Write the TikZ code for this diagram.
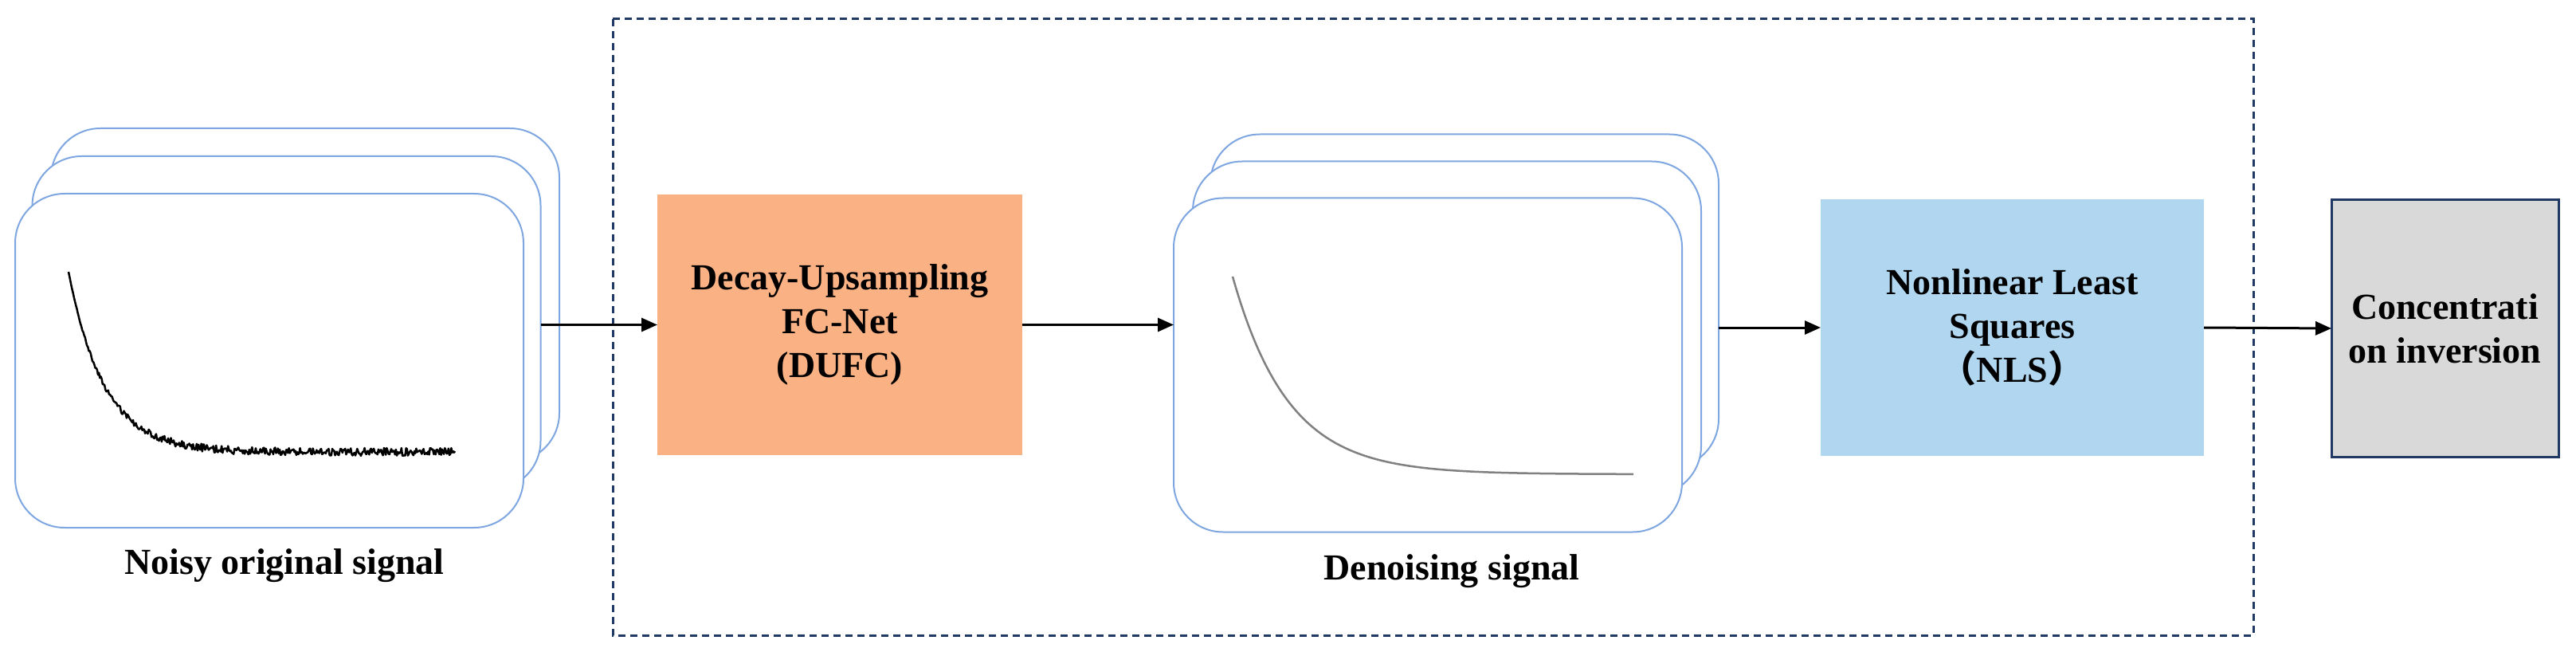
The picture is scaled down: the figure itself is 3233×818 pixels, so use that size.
\documentclass[tikz,border=0pt]{standalone}
\usepackage{fontspec}
\setmainfont{Liberation Serif}
\newfontfamily\cjk{Noto Sans CJK SC}
\usetikzlibrary{arrows.meta}
\definecolor{cardblue}{HTML}{7EA6E0}
\definecolor{dashnavy}{HTML}{1F3864}
\definecolor{dufcorange}{HTML}{FAB184}
\definecolor{nlsblue}{HTML}{B0D6F0}
\definecolor{invgray}{HTML}{D9D9D9}
\definecolor{curvegray}{HTML}{808080}
\begin{document}
\begin{tikzpicture}[x=1pt,y=-1pt,
  card/.style={draw=cardblue, line width=2pt, fill=white, rounded corners=62pt,
    minimum width=638pt, minimum height=419pt, inner sep=0pt, outer sep=0pt},
  procbox/.style={inner sep=0pt, outer sep=0pt, align=center,
    font=\fontsize{46}{55}\selectfont\bfseries},
  caption/.style={inner sep=0pt, font=\fontsize{46}{55}\selectfont\bfseries},
  conn/.style={-{Triangle[length=20pt,width=17pt]}, line width=3pt, black}]
\useasboundingbox (0,0) rectangle (3233,818);

% dashed frame
\draw[dashnavy, line width=3pt, dash pattern=on 9pt off 6pt] (769,24) rectangle (2828,797);

% noisy cards
\node[card] (n3) at (383,370.5) {};
\node[card] (n2) at (359.5,405.5) {};
\node[card] (n1) at (338,452.5) {};
\pgfmathsetseed{7}
\draw[black, line width=2.5pt, line join=round]
  plot[domain=0:485, samples=420] ({\x+86}, {567-226*exp(-\x/45)+5*rand*(1-exp(-\x/50))});
\node[caption] (nlab) at (357,710) {Noisy original signal};

% DUFC
\node[procbox, fill=dufcorange, minimum width=458pt, minimum height=327pt] (dufc) at (1054,407.5)
  {Decay-Upsampling\\FC-Net\\(DUFC)};

% denoised cards
\node[card] (d3) at (1838,378) {};
\node[card] (d2) at (1816,412) {};
\node[card] (d1) at (1792,458) {};
\draw[curvegray, line width=2.5pt]
  plot[domain=0:503, samples=200] ({\x+1547}, {595-248*exp(-\x/70)});
\node[caption] (dlab) at (1822,717) {Denoising signal};

% NLS
\node[procbox, fill=nlsblue, minimum width=481pt, minimum height=322pt] (nls) at (2525.5,411)
  {Nonlinear Least\\Squares\\{\cjk （}NLS{\cjk ）}};

% inversion
\node[procbox, fill=invgray, draw=dashnavy, line width=3pt, minimum width=285pt, minimum height=322pt] (inv) at (3068.5,412)
  {Concentrati\\on inversion};

% connectors
\draw[conn] (n2.east |- dufc.west) -- (dufc.west);
\draw[conn] (dufc.east) -- (dufc.east -| d1.west);
\draw[conn] (nls.west -| d3.east) -- (nls.west);
\draw[conn] (nls.east) -- (inv.west);
\end{tikzpicture}
\end{document}
